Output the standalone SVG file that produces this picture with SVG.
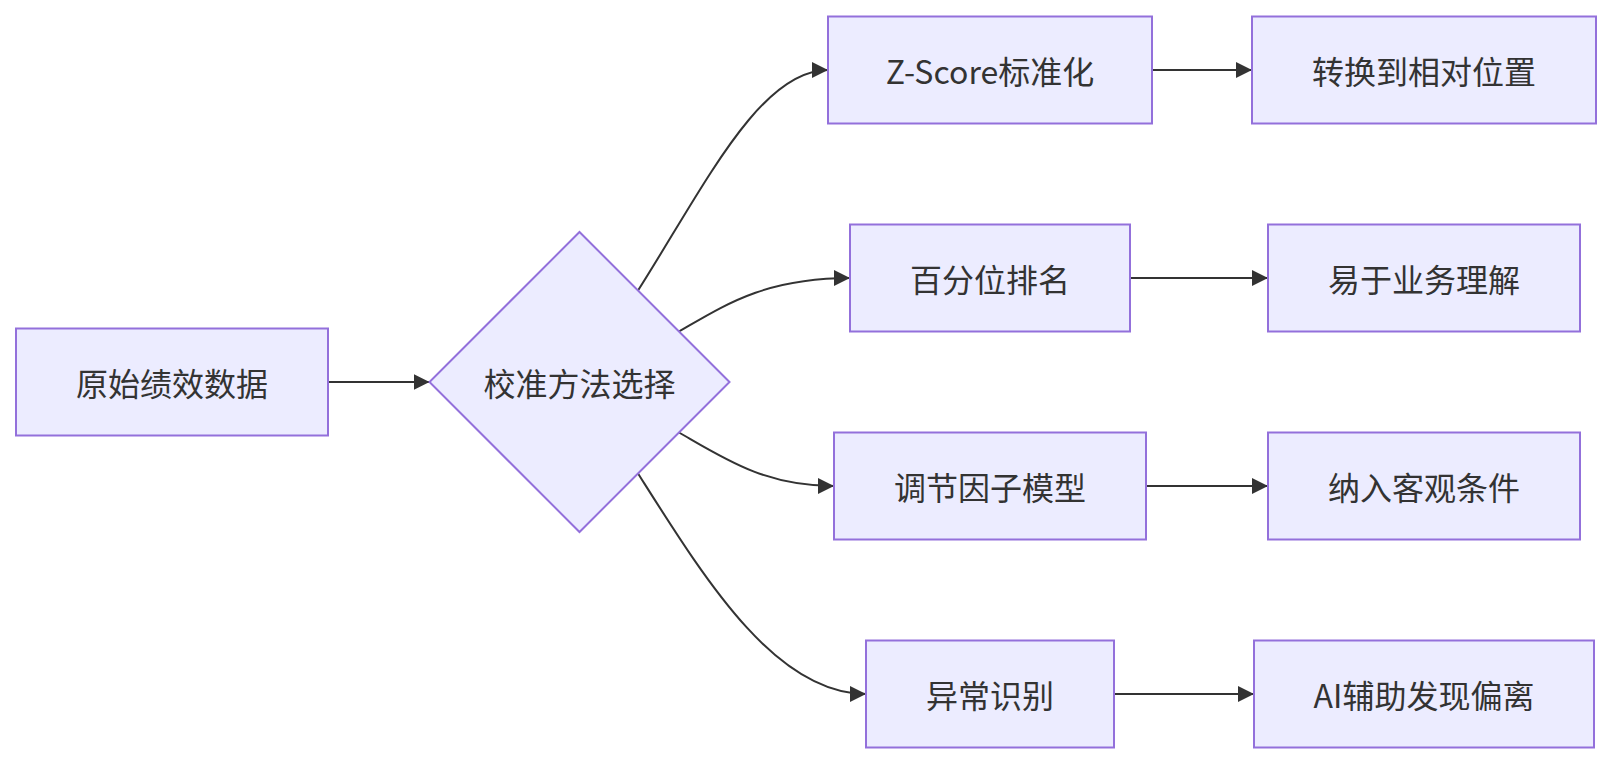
<svg xmlns="http://www.w3.org/2000/svg" width="1611" height="764" viewBox="0 0 1611 764">
<style>
.node rect,.node polygon{fill:#ECECFF;stroke:#9370DB;stroke-width:2}
.lbl{font-family:"Noto Sans CJK SC","Noto Sans",sans-serif;font-size:32px;fill:#333333;text-anchor:middle;dominant-baseline:central}
.edge{fill:none;stroke:#333333;stroke-width:2;marker-end:url(#arr)}
</style>
<defs>
<marker id="arr" markerUnits="userSpaceOnUse" markerWidth="16" markerHeight="16" refX="16" refY="8" orient="auto" viewBox="0 0 16 16">
<path d="M0,0 L16,8 L0,16 z" fill="#333333"/>
</marker>
</defs>
<rect width="1611" height="764" fill="#ffffff"/>
<g id="connectors">
<path class="edge" d="M328,382 L429.5,382"/>
<path class="edge" d="M638,290.5 C705,185 760,70 828,70"/>
<path class="edge" d="M679,331.5 C725,305 765,278 850,278"/>
<path class="edge" d="M679,432.5 C725,459 765,486 834,486"/>
<path class="edge" d="M638,473.5 C705,579 775,694 866,694"/>
<path class="edge" d="M1152,70 L1252,70"/>
<path class="edge" d="M1130,278 L1268,278"/>
<path class="edge" d="M1146,486 L1268,486"/>
<path class="edge" d="M1114,694 L1254,694"/>
</g>
<g id="A" class="node"><rect x="16" y="328.5" width="312" height="107"/><text class="lbl" x="172" y="382">原始绩效数据</text></g>
<g id="B" class="node"><polygon points="579.5,232 729.5,382 579.5,532 429.5,382"/><text class="lbl" x="579.5" y="382">校准方法选择</text></g>
<g id="C" class="node"><rect x="828" y="16.5" width="324" height="107"/><text class="lbl" x="990" y="70">Z-Score标准化</text></g>
<g id="D" class="node"><rect x="1252" y="16.5" width="344" height="107"/><text class="lbl" x="1424" y="70">转换到相对位置</text></g>
<g id="E" class="node"><rect x="850" y="224.5" width="280" height="107"/><text class="lbl" x="990" y="278">百分位排名</text></g>
<g id="F" class="node"><rect x="1268" y="224.5" width="312" height="107"/><text class="lbl" x="1424" y="278">易于业务理解</text></g>
<g id="G" class="node"><rect x="834" y="432.5" width="312" height="107"/><text class="lbl" x="990" y="486">调节因子模型</text></g>
<g id="H" class="node"><rect x="1268" y="432.5" width="312" height="107"/><text class="lbl" x="1424" y="486">纳入客观条件</text></g>
<g id="I" class="node"><rect x="866" y="640.5" width="248" height="107"/><text class="lbl" x="990" y="694">异常识别</text></g>
<g id="J" class="node"><rect x="1254" y="640.5" width="340" height="107"/><text class="lbl" x="1424" y="694">AI辅助发现偏离</text></g>
</svg>
